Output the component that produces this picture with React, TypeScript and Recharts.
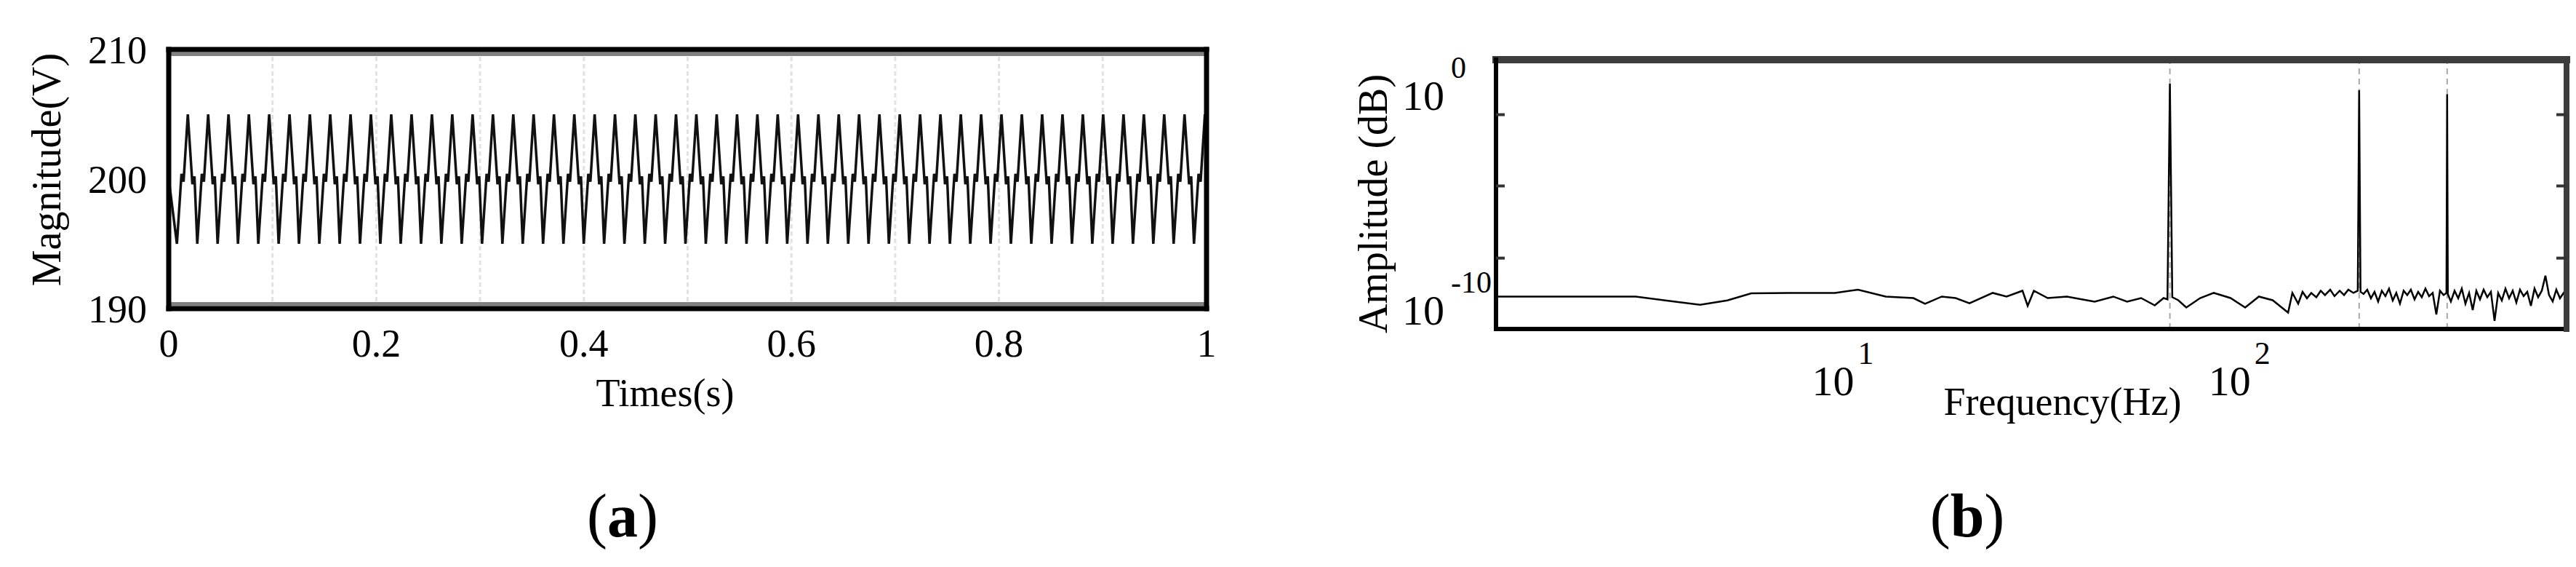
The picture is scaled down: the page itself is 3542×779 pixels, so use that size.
import React from 'react';
import { CartesianGrid, Label, Line, LineChart, ReferenceArea, ReferenceLine, XAxis, YAxis } from 'recharts';

const FONT = '"Liberation Serif", "Times New Roman", Times, serif';

// ---------- (a) voltage magnitude over one second ----------
const timeTicks = [0, 0.1, 0.2, 0.3, 0.4, 0.5, 0.6, 0.7, 0.8, 0.9, 1];
const timeLabels = [0, 0.2, 0.4, 0.6, 0.8, 1];
const voltTicks = [190, 200, 210];
const voltMarks = [200];

// one cycle, starting at a trough; the trace repeats it
const firstTroughS = 0.0079;
const cyclePeriodS = 0.0196;
const cycleCount = 51;
const cycleOffsetS = [0, 0.0044, 0.0064, 0.0105, 0.0149, 0.0169];
const cycleVolts = [195, 200.4, 199.8, 205, 199.6, 200.2];

const waveData: { t: number; v: number }[] = [{ t: 0, v: 200 }];
for (let k = 0; k < cycleCount; k++) {
  cycleOffsetS.forEach((dt, i) => {
    const t = firstTroughS + k * cyclePeriodS + dt;
    if (t <= 1) waveData.push({ t, v: cycleVolts[i] });
  });
}

// ---------- (b) amplitude spectrum (values are log10 of amplitude) ----------
const freqDomain = [1, 500];
const expDomain = [-10.88, 1.66];
const freqDecades = [10, 100];
const ampDecades = [0, -10];
const freqMarks = [1.11, 1.27, 1.43, 1.585, 3.17, 4.76, 6.34, 7.93, 9.51, 11.1, 12.7, 14.3, 15.85, 31.7, 47.6, 63.4, 79.3, 95.1, 111, 127, 143, 158.5, 317, 476];
const ampMarks = [-0.9, -4.22, -7.58];

const harmonicHz = [50, 150, 250];
const harmonicExp = [0.54, 0.24, 0.05];

const floorLow: [number, number][] = [
  [1.0, -9.37], [1.38, -9.37], [2.25, -9.37], [2.67, -9.55], [3.27, -9.75], [3.83, -9.55],
  [4.4, -9.22], [5.48, -9.2], [7.15, -9.2], [8.18, -9.05], [9.61, -9.37], [11.28, -9.44],
  [12.07, -9.71], [13.3, -9.37], [14.41, -9.44], [15.62, -9.68], [17.88, -9.2], [19.37, -9.37],
  [21.25, -9.1], [21.9, -9.8], [22.7, -9.1], [24.6, -9.44], [27.5, -9.37], [32.3, -9.61],
  [36.0, -9.37], [39.0, -9.61], [42.3, -9.44], [45.8, -9.78], [48.2, -9.44], [49.3, -9.5],
];

const floorMid: [number, number][] = [
  [50.7, -9.4], [52.5, -9.54], [55.0, -9.88], [59.6, -9.44], [64.5, -9.2], [71.1, -9.44],
  [77.4, -9.88], [83.8, -9.37], [90.8, -9.54], [99.3, -10.12], [101.8, -9.2], [105.3, -9.7],
  [108.0, -9.15], [110.8, -9.45], [113.6, -9.2], [117.0, -9.4], [120.0, -9.1], [123.0, -9.3],
  [126.8, -9.05], [130.0, -9.35], [134.0, -9.1], [137.4, -9.3], [140.9, -9.05], [145.1, -9.2],
  [148.8, -9.1],
];

const floorHigh: [number, number][] = [
  [151.2, -9.15], [153.9, -9.25], [157.2, -9.05], [160.6, -9.45], [164.0, -9.15], [167.5, -9.6],
  [171.1, -9.1], [174.7, -9.35], [178.4, -9.0], [182.3, -9.55], [186.1, -9.2], [190.1, -9.7],
  [194.2, -9.1], [198.3, -9.3], [202.5, -9.05], [206.9, -9.5], [211.3, -9.15], [215.8, -9.4],
  [220.4, -9.0], [225.1, -9.35], [229.9, -9.2], [234.8, -10.2], [239.8, -9.1], [244.9, -9.3],
  [249.0, -9.2], [251.0, -9.25], [255.5, -9.6], [261.0, -9.1], [266.6, -9.45], [272.2, -9.0],
  [278.0, -9.7], [284.0, -9.2], [290.0, -10.0], [296.2, -9.1], [302.5, -9.5], [309.0, -9.05],
  [315.6, -9.4], [322.3, -9.15], [329.2, -10.5], [336.2, -9.2], [343.4, -9.55], [350.7, -9.0],
  [358.2, -9.45], [365.8, -9.1], [373.6, -9.65], [381.6, -9.05], [389.7, -9.35], [398.0, -9.15],
  [406.5, -9.8], [415.2, -9.0], [424.0, -9.4], [433.1, -9.1], [442.3, -8.4], [451.7, -9.3],
  [461.4, -9.6], [471.2, -9.05], [481.3, -9.45], [491.5, -9.2], [500, -9.35],
];

const spectrumData = [
  ...floorLow,
  ...floorMid,
  ...floorHigh,
  ...harmonicHz.map((f, i) => [f, harmonicExp[i]] as [number, number]),
]
  .sort((a, b) => a[0] - b[0])
  .map(([f, e]) => ({ f, e }));

const noTick = () => null;

const TimeTick = (props: any) => {
  const { x, y, payload } = props;
  const v = payload.value;
  if (!timeLabels.some((l) => Math.abs(l - v) < 1e-6)) return null;
  const txt = v === 0 ? '0' : v === 1 ? '1' : v.toFixed(1);
  return (
    <text x={x} y={y + 66} textAnchor="middle" fontFamily={FONT} fontSize={54} fill="#000">
      {txt}
    </text>
  );
};

const VoltTick = (props: any) => {
  const { x, y, payload } = props;
  return (
    <text x={x - 30} y={y} dy="0.35em" textAnchor="end" fontFamily={FONT} fontSize={54} fill="#000">
      {payload.value}
    </text>
  );
};

const FreqTick = (props: any) => {
  const { x, y, payload } = props;
  const n = Math.round(Math.log10(payload.value));
  return (
    <g fontFamily={FONT} fill="#000">
      <text x={x - 53} y={y + 91} textAnchor="end" fontSize={58}>10</text>
      <text x={x - 48} y={y + 48} textAnchor="start" fontSize={44}>{n}</text>
    </g>
  );
};

const AmpTick = (props: any) => {
  const { x, y, payload } = props;
  return (
    <g fontFamily={FONT} fill="#000">
      <text x={x - 71} y={y} dy="0.35em" textAnchor="end" fontSize={58}>10</text>
      <text x={x - 62} y={y - 24} textAnchor="start" fontSize={42}>{payload.value}</text>
    </g>
  );
};

const WaveformChart = () => (
  <LineChart width={1700} height={640} data={waveData} margin={{ top: 68, right: 41, bottom: 66, left: 0 }}>
    <CartesianGrid horizontal={false} stroke="#e2e2e2" strokeDasharray="6 4" strokeWidth={3} />
    <ReferenceArea y1={209.5} y2={209.8} fill="#808080" fillOpacity={1} stroke="none" />
    <ReferenceArea y1={190.2} y2={190.5} fill="#808080" fillOpacity={1} stroke="none" />
    <XAxis
      dataKey="t"
      type="number"
      domain={[0, 1]}
      ticks={timeTicks}
      interval={0}
      height={150}
      tickSize={0}
      tickMargin={0}
      tickLine={false}
      axisLine={{ stroke: '#000', strokeWidth: 7, strokeLinecap: 'square' }}
      tick={TimeTick}
    >
      <Label
        content={(p: any) => {
          const vb = p.viewBox || { x: 232, y: 424, width: 1427, height: 150 };
          return (
            <text x={vb.x + vb.width / 2 - 31} y={vb.y + 134} textAnchor="middle" fontFamily={FONT} fontSize={54} fill="#000">
              Times(s)
            </text>
          );
        }}
      />
    </XAxis>
    <XAxis
      xAxisId="topEdge"
      orientation="top"
      mirror
      type="number"
      domain={[0, 1]}
      ticks={[0]}
      tick={noTick}
      tickLine={false}
      axisLine={{ stroke: '#000', strokeWidth: 7, strokeLinecap: 'square' }}
    />
    <YAxis
      type="number"
      domain={[190, 210]}
      ticks={voltTicks}
      interval={0}
      width={232}
      tickSize={0}
      tickMargin={0}
      tickLine={false}
      axisLine={{ stroke: '#000', strokeWidth: 7, strokeLinecap: 'square' }}
      tick={VoltTick}
    >
      <Label
        content={(p: any) => {
          const vb = p.viewBox || { x: 0, y: 68, width: 232, height: 356 };
          const cx = vb.x + 83;
          const cy = vb.y + vb.height / 2 - 13;
          return (
            <text x={cx} y={cy} transform={`rotate(-90 ${cx} ${cy})`} textAnchor="middle" fontFamily={FONT} fontSize={56} fill="#000">
              Magnitude(V)
            </text>
          );
        }}
      />
    </YAxis>
    <YAxis
      yAxisId="rightEdge"
      orientation="right"
      mirror
      type="number"
      domain={[190, 210]}
      ticks={voltMarks}
      interval={0}
      tick={noTick}
      tickSize={12}
      tickLine={{ stroke: '#000', strokeWidth: 3 }}
      axisLine={{ stroke: '#000', strokeWidth: 7, strokeLinecap: 'square' }}
    />
    <YAxis
      yAxisId="leftMarks"
      orientation="left"
      mirror
      type="number"
      domain={[190, 210]}
      ticks={voltMarks}
      interval={0}
      tick={noTick}
      tickSize={12}
      tickLine={{ stroke: '#000', strokeWidth: 3 }}
      axisLine={false}
    />
    <Line dataKey="v" type="linear" stroke="#111" strokeWidth={3.5} dot={false} activeDot={false} isAnimationActive={false} />
  </LineChart>
);

const SpectrumChart = () => (
  <LineChart width={1742} height={640} data={spectrumData} margin={{ top: 82, right: 13, bottom: 38, left: 0 }}>
    {harmonicHz.map((f) => (
      <ReferenceLine key={f} x={f} stroke="#a8a8a8" strokeWidth={2} strokeDasharray="8 6" />
    ))}
    <XAxis
      dataKey="f"
      type="number"
      scale="log"
      domain={freqDomain}
      allowDataOverflow
      ticks={freqDecades}
      interval={0}
      height={150}
      tickSize={0}
      tickMargin={0}
      tickLine={false}
      axisLine={{ stroke: '#000', strokeWidth: 6, strokeLinecap: 'square' }}
      tick={FreqTick}
    >
      <Label
        content={(p: any) => {
          const vb = p.viewBox || { x: 257, y: 452, width: 1472, height: 150 };
          return (
            <text x={vb.x + vb.width / 2 + 43} y={vb.y + 118} textAnchor="middle" fontFamily={FONT} fontSize={54} fill="#000">
              Frequency(Hz)
            </text>
          );
        }}
      />
    </XAxis>
    <XAxis
      xAxisId="topMarks"
      orientation="top"
      mirror
      type="number"
      scale="log"
      domain={freqDomain}
      allowDataOverflow
      ticks={freqMarks}
      interval={0}
      tick={noTick}
      tickSize={10}
      tickLine={{ stroke: '#222', strokeWidth: 3 }}
      axisLine={{ stroke: '#3d3d3d', strokeWidth: 10, strokeLinecap: 'square' }}
    />
    <XAxis
      xAxisId="bottomMarks"
      orientation="bottom"
      mirror
      type="number"
      scale="log"
      domain={freqDomain}
      allowDataOverflow
      ticks={freqMarks}
      interval={0}
      tick={noTick}
      tickSize={9}
      tickLine={{ stroke: '#222', strokeWidth: 3 }}
      axisLine={false}
    />
    <YAxis
      type="number"
      domain={expDomain}
      allowDataOverflow
      ticks={ampDecades}
      interval={0}
      width={257}
      tickSize={0}
      tickMargin={0}
      tickLine={false}
      axisLine={{ stroke: '#000', strokeWidth: 6, strokeLinecap: 'square' }}
      tick={AmpTick}
    >
      <Label
        content={(p: any) => {
          const vb = p.viewBox || { x: 0, y: 82, width: 257, height: 370 };
          const cx = vb.x + 107;
          const cy = vb.y + vb.height / 2 + 13;
          return (
            <text x={cx} y={cy} transform={`rotate(-90 ${cx} ${cy})`} textAnchor="middle" fontFamily={FONT} fontSize={56} fill="#000">
              Amplitude (dB)
            </text>
          );
        }}
      />
    </YAxis>
    <YAxis
      yAxisId="rightMarks"
      orientation="right"
      mirror
      type="number"
      domain={expDomain}
      allowDataOverflow
      ticks={ampMarks}
      interval={0}
      tick={noTick}
      tickSize={14}
      tickLine={{ stroke: '#333', strokeWidth: 4 }}
      axisLine={{ stroke: '#3d3d3d', strokeWidth: 8, strokeLinecap: 'square' }}
    />
    <YAxis
      yAxisId="leftMarks"
      orientation="left"
      mirror
      type="number"
      domain={expDomain}
      allowDataOverflow
      ticks={ampMarks}
      interval={0}
      tick={noTick}
      tickSize={12}
      tickLine={{ stroke: '#333', strokeWidth: 4 }}
      axisLine={false}
    />
    <Line dataKey="e" type="linear" stroke="#000" strokeWidth={2.5} dot={false} activeDot={false} isAnimationActive={false} />
  </LineChart>
);

const PanelTag = ({ x, letter }: { x: number; letter: string }) => (
  <text x={x} y={737} textAnchor="middle" fontFamily={FONT} fontSize={84} fill="#000">
    (<tspan fontWeight="bold">{letter}</tspan>)
  </text>
);

export default function App() {
  return (
    <div style={{ position: 'absolute', left: 0, top: 0, width: 3542, height: 779, background: '#fff', overflow: 'hidden' }}>
      <div style={{ position: 'absolute', left: 0, top: 0 }}>
        <WaveformChart />
      </div>
      <div style={{ position: 'absolute', left: 1800, top: 0 }}>
        <SpectrumChart />
      </div>
      <svg style={{ position: 'absolute', left: 0, top: 0 }} width={3542} height={779}>
        <PanelTag x={856} letter="a" />
        <PanelTag x={2705} letter="b" />
      </svg>
    </div>
  );
}
